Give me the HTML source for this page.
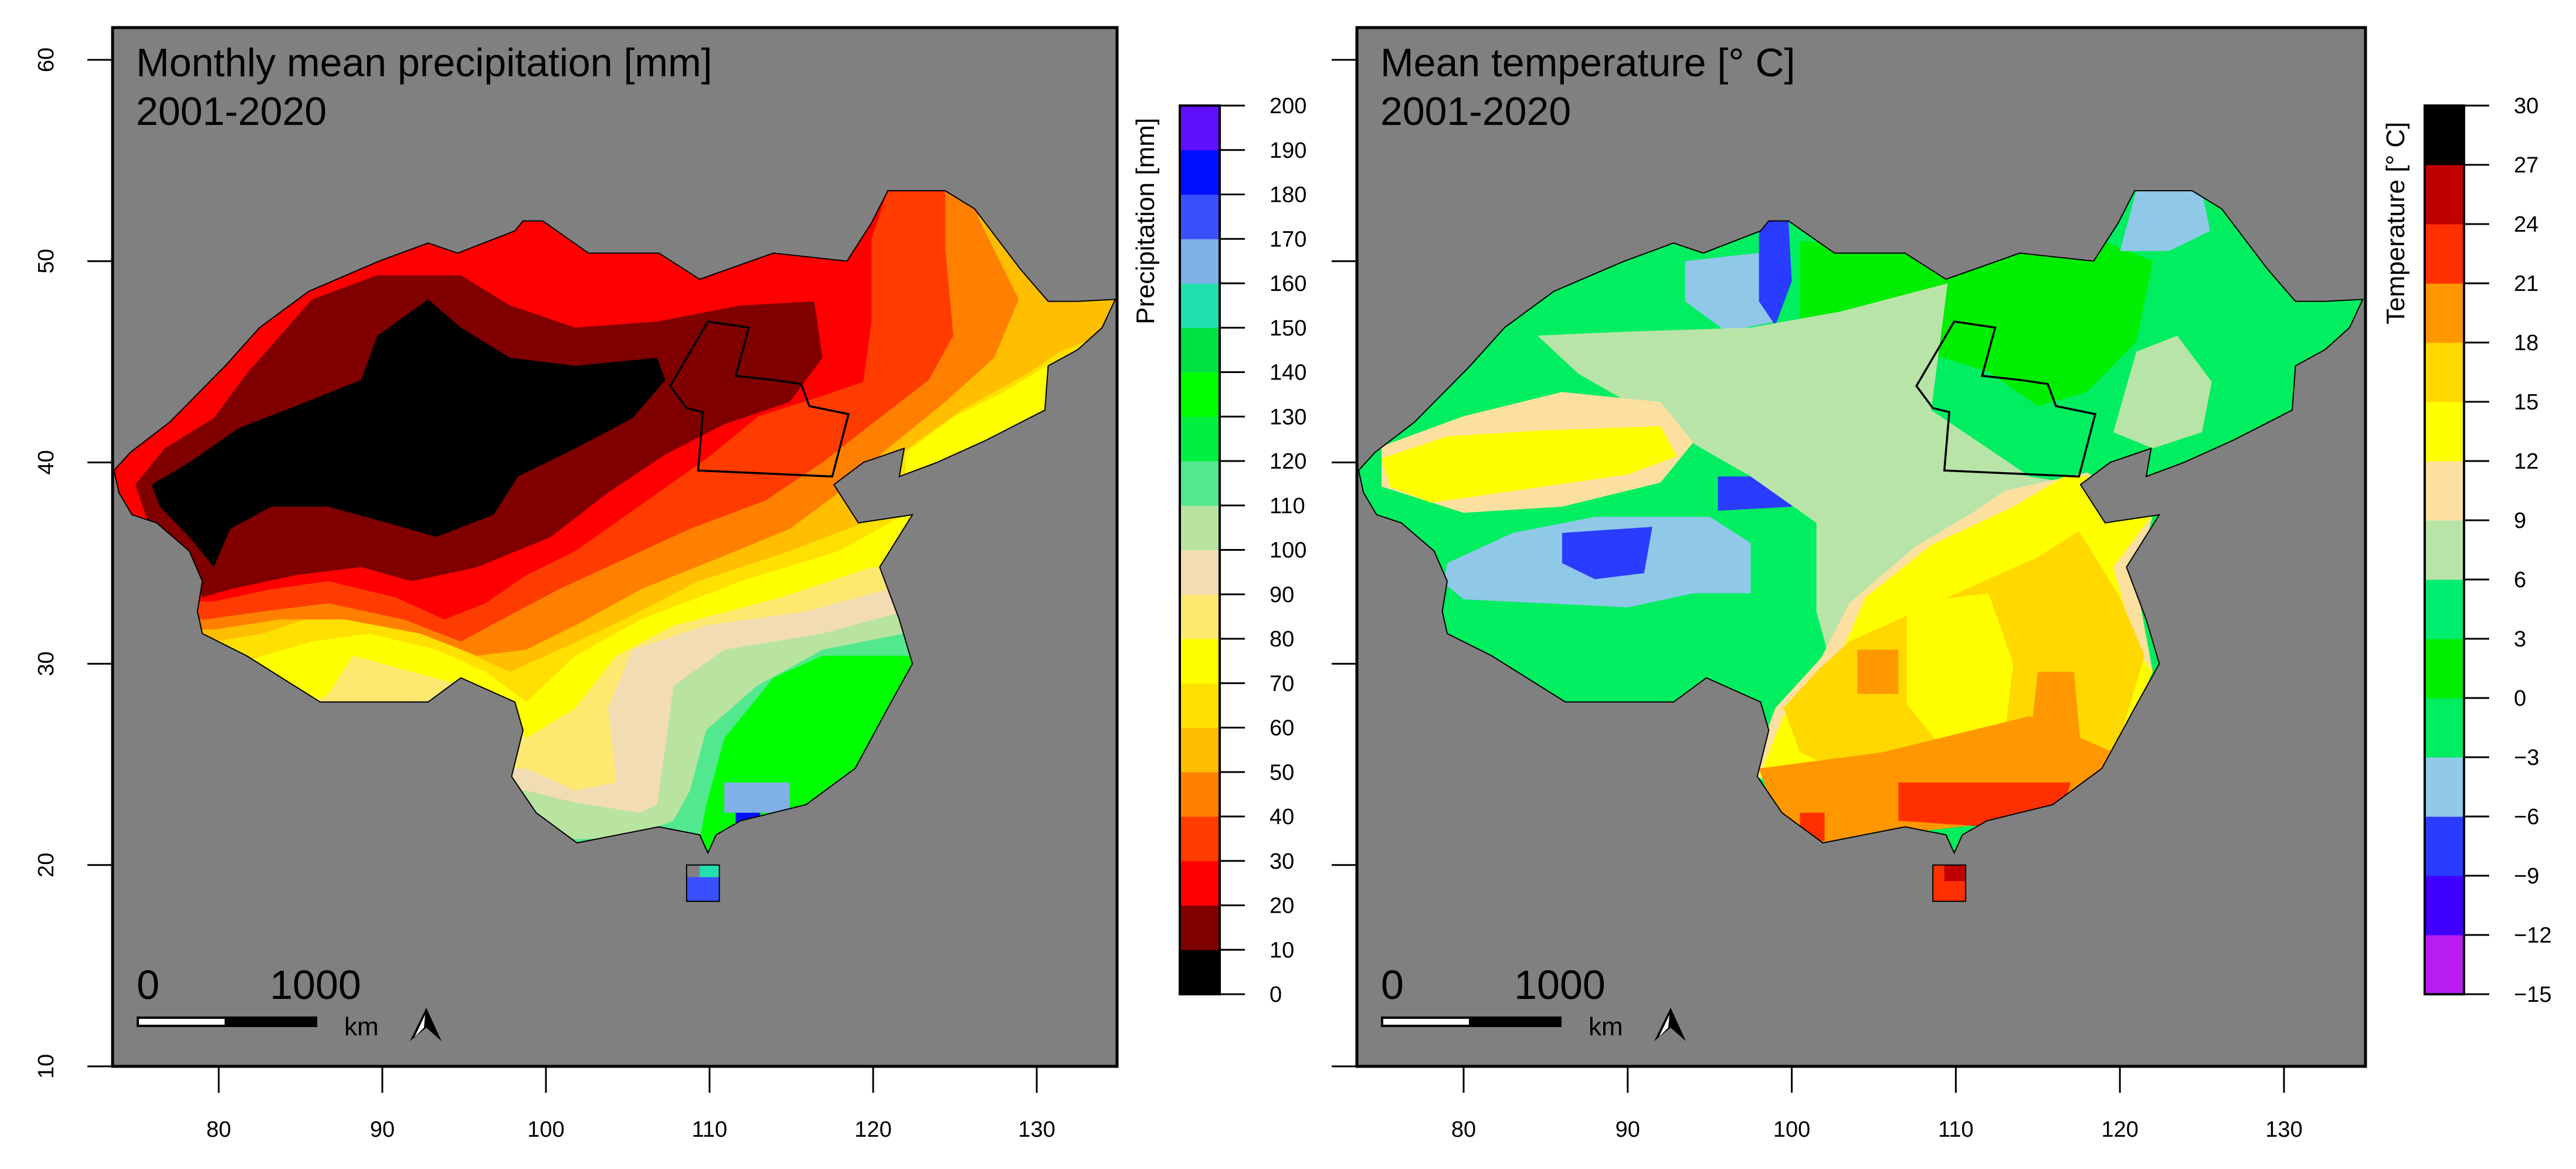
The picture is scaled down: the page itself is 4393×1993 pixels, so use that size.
<!DOCTYPE html>
<html><head><meta charset="utf-8"><style>
html,body{margin:0;padding:0;background:#fff}
svg{display:block}
text{font-family:"Liberation Sans",Arial,sans-serif}
</style></head><body>
<svg id="fig" xmlns="http://www.w3.org/2000/svg" width="4393" height="1993" viewBox="0 0 4393 1993"></svg>
<script>
// ---------- data ----------
const lonTicks = [80, 90, 100, 110, 120, 130];
const latTicks = [10, 20, 30, 40, 50, 60];
const precipBreaks = [0,10,20,30,40,50,60,70,80,90,100,110,120,130,140,150,160,170,180,190,200];
const precipColors = ["#000000","#800000","#ff0000","#ff3c00","#ff8000","#ffbe00","#ffe000","#ffff00","#ffe870","#f2dcb4","#b8e4a0","#52e890","#00f040","#00ff00","#00e040","#20e0b0","#80b0e8","#3a50ff","#0010ff","#6010ff"];
const tempBreaks = [-15,-12,-9,-6,-3,0,3,6,9,12,15,18,21,24,27,30];
const tempLabels = ["\u221215","\u221212","\u22129","\u22126","\u22123","0","3","6","9","12","15","18","21","24","27","30"];
const tempColors = ["#b81cf0","#4000ff","#2a3cff","#90c8e8","#00ee60","#00ee00","#00ee70","#b8e4a8","#fce0a0","#ffff00","#ffd800","#ff9800","#ff3000","#c00000","#000000"];
const china = [[73.6,39.6],[74.6,40.5],[77,42],[80.4,44.8],[82.5,46.7],[85.5,48.5],[87.5,49.2],[89.8,50],[92.8,50.9],[94.6,50.4],[98.1,51.5],[98.6,52],[99.8,52],[102.6,50.4],[106.9,50.4],[109.4,49.1],[113.9,50.4],[118.4,50],[119.9,51.9],[120.9,53.5],[124.4,53.5],[126.2,52.6],[129,49.6],[130.7,48],[132.5,48],[134.8,48.1],[134,46.7],[132.5,45.6],[130.7,44.8],[130.5,42.6],[126.9,41.1],[123.9,40],[121.6,39.3],[121.9,40.7],[119.4,40],[117.6,38.9],[119.1,37],[122.4,37.4],[120.4,34.8],[121.6,32.2],[122.4,30],[120.9,27.8],[118.9,24.8],[115.9,23],[111.9,22.2],[110.4,21.5],[109.9,20.6],[109.4,21.5],[106.9,21.9],[101.9,21.1],[99.4,22.6],[97.9,24.4],[98.6,26.7],[98.1,28.1],[94.8,29.3],[92.8,28.1],[86.2,28.1],[81.7,30.4],[79,31.5],[78.7,32.6],[79,34.1],[78.2,35.6],[76.2,37],[74.7,37.4],[73.9,38.5]];
const hainan = [[108.6,18.2],[110.6,18.2],[110.6,20],[108.6,20]];
const studyArea = [[109.9,47],[112.4,46.7],[111.6,44.3],[113.9,44.1],[115.6,43.9],[116.1,42.8],[118.5,42.4],[117.5,39.3],[109.3,39.6],[109.6,42.5],[108.6,42.7],[107.6,43.8]];
// precipitation class boundaries: class index drawn on NW side of each line
const pLineMint = [[140,30.4],[121.4,30.4],[116.9,30.4],[113.9,29.3],[110.9,26.3],[109.8,23],[109.3,20.8],[70,20.8]];
const pLineLightGreen = [[140,31.5],[121.9,31.5],[116.9,30.7],[112.9,28.9],[109.8,26.7],[108.8,23.7],[107.8,22.2],[104.8,21.3],[70,21.3]];
const pLineWheat = [[140,32.6],[121.9,32.6],[116.9,31.5],[110.9,30.7],[107.8,28.9],[107.3,25.9],[106.8,23],[105.8,22.6],[101.8,23.1],[98.8,23.7],[70,23.7]];
const pLineLightYellow = [[140,33.7],[120.9,33.7],[115.9,32.6],[109.8,31.9],[105.3,30.7],[103.8,27.8],[104.3,24.1],[101.8,23.7],[98.8,24.8],[70,24.8]];
const pLineYellow = [[140,34.8],[119.9,34.8],[114.4,33.3],[107.8,31.9],[104.3,30.4],[101.8,27.8],[98.8,26.3],[96.8,28.5],[91.8,29.6],[88.2,30.4],[86.7,28.5],[85.7,28],[70,28]];
const pLineGold = [[140,45],[131,45],[128,43.5],[125,42.3],[122,40.5],[121.9,37.4],[117.9,35.6],[111.9,34.1],[105.8,32.2],[101.8,30.4],[98.8,28.1],[96.3,29.6],[93.3,30.7],[89.2,31.5],[85.7,31.1],[82.7,30.4],[81.2,30],[70,30]];
const pLineAmber = [[140,46],[133,46],[131.4,45.5],[129.4,44.4],[125.4,42.6],[120.9,40],[119.4,37],[114.9,35.6],[109.3,34.1],[104.8,32.2],[100.8,30.7],[97.8,29.6],[94.8,30.7],[90.8,32.2],[86.7,32.6],[82.7,31.5],[79.7,31.1],[70,31.1]];
const pLineOrange = [[126.5,60],[126.4,52.2],[128.9,48.1],[127.4,45.2],[124.4,43],[120.9,40.7],[117.9,38.5],[114.9,36.7],[110.4,35.2],[105.8,33.7],[101.8,31.9],[98.8,30.7],[95.8,30.4],[92.3,31.5],[87.7,32.2],[83.7,32.2],[79.7,31.7],[70,31.7]];
const pLineRedOrange = [[124.4,60],[124.4,53],[124.4,50.7],[124.9,46.3],[123.4,44.1],[119.9,41.9],[116.9,40],[113.4,38.1],[108.8,36.7],[104.8,35.2],[100.8,33.7],[97.3,32.2],[94.8,31.1],[91.3,32.2],[86.7,33],[82.7,32.6],[79.2,32.2],[70,32.2]];
const pLineRed = [[121,60],[120.9,53.5],[119.9,51.1],[119.9,47],[119.4,44],[116.5,43.2],[113,42.3],[110,40.3],[106,38],[101.8,35.6],[98.8,34.4],[96.3,33],[93.8,32.2],[90.8,33.3],[86.7,34.1],[83.2,33.7],[79.7,33.1],[70,33.1]];
const pBlobDarkRed = [[74.9,38.9],[76.7,40.7],[79.7,42.2],[81.7,44.4],[85.7,48.1],[89.7,49.3],[94.8,49.3],[97.8,47.8],[101.8,46.7],[106.8,47],[111.9,47.8],[116.4,48],[116.9,45.2],[114.9,43],[110.9,41.9],[107.3,40.4],[103.8,38.5],[100.3,36.3],[95.8,34.8],[91.8,34.1],[88.7,34.8],[84.7,34.4],[80.7,33.7],[79,33.3],[78.2,35.6],[75.7,37]];
const pBlobBlack = [[75.9,38.9],[78.2,40],[81.2,41.7],[84.7,42.8],[88.7,44.1],[89.7,46.3],[92.8,48.1],[94.8,46.7],[97.8,45.2],[101.8,44.8],[106.8,45.2],[107.3,44.1],[105.3,42.2],[101.8,40.7],[98.3,39.3],[96.8,37.4],[93.3,36.3],[90.3,37],[86.7,37.8],[83.2,37.8],[80.7,36.7],[79.7,34.8],[78.2,36.3],[76.4,37.8]];
const pLightBlueSpot = [[110.9,22.6],[114.9,22.6],[114.9,24.1],[110.9,24.1]];
const pBlueSpot = [[111.6,21.7],[113.1,21.7],[113.1,22.6],[111.6,22.6]];
const pHainanBlue = [[108.6,18.2],[110.6,18.2],[110.6,19.4],[108.6,19.4]];
const pHainanMint = [[109.4,19.4],[110.6,19.4],[110.6,20],[109.4,20]];
// temperature patches [colorIndex, polygon]
const tGreenNE = [[100.5,51],[110,50.5],[119,51],[122,50],[121,46],[118,43.5],[115,42.8],[112,44.5],[106,46],[100.5,46.5]];
const tLightBlueN = [[93.5,50],[99,50.5],[99,47],[96,46.5],[93.5,48]];
const tLightBlueNE = [[120,50.5],[121,53.5],[125,53.5],[125.5,51.5],[123,50.5]];
const tLightBlueTibet = [[79,35],[83,36.5],[88,37.3],[95,37.3],[97.5,36],[97.5,33.5],[94,33.5],[90,32.8],[85,33],[80,33.2],[78.8,34]];
const tBlue1 = [[86,36.5],[91.5,36.8],[91,34.5],[88,34.2],[86,35]];
const tBlue2 = [[95.5,39.3],[100,39.3],[100,37.8],[95.5,37.6]];
const tBlue3 = [[98,52],[99.8,52],[100,49],[99,46.8],[98,48]];
const tLightGreen = [[97.5,46.7],[103,47.5],[109.5,48.9],[108.5,42.6],[114.5,39.3],[117.6,38.9],[113.5,37],[107.5,34.8],[104.5,32.2],[102.5,29.6],[101.5,32.6],[101.5,37],[97.5,39.3],[94.5,40.7],[90,43],[87,44.4],[84.5,46.3],[90,46.5]];
const tLightGreenNE = [[119.6,41.5],[121,45.5],[123.5,46.3],[125.6,44],[125,41.5],[122,40.7]];
const tWheatW = [[75,40.8],[80,42.3],[86,43.5],[92,43],[94,41],[92,39],[86,37.8],[80,37.5],[75,38.8]];
const tYellowW = [[75,40.2],[79,41.3],[85,41.6],[92,41.8],[93,40.3],[90,39.4],[84,38.7],[78,38],[75.5,38.8]];
const tWheatS = [[113,38.6],[118,39.5],[122,37.4],[121,34],[122,29.6],[119.6,25.2],[114.5,22.8],[104.5,22.3],[97.5,24.5],[99,27.8],[101.8,30.3],[103.5,33],[107.5,35.8],[111,37.5]];
const tYellowS = [[116.6,39.3],[119.6,39.3],[122,37.4],[119.6,34.8],[121,30.7],[122,29.6],[119.6,25.2],[114.5,23],[104.5,22.6],[98,24.4],[99.5,27.4],[102.5,29.6],[104.5,33.3],[108.5,35.9],[113.5,37.8]];
const tGold = [[103.5,31.1],[109.5,33.3],[115,35.3],[117.5,36.6],[120,33.3],[121.5,30.4],[119.6,25.2],[114.5,23.7],[105.5,23.7],[100.5,25.6],[99.5,27.8],[101.5,29.6]];
const tYellowIn = [[107,33],[112,33.5],[113.5,30],[113,26.5],[109,26],[107,28]];
const tOrange = [[98,24.8],[105.5,25.6],[114.5,27.4],[119.6,25.6],[117.6,23.4],[113.5,22.2],[101.5,21.1],[99,22.6]];
const tOrange2 = [[104,28.5],[106.5,28.5],[106.5,30.7],[104,30.7]];
const tOrange3 = [[114.5,26],[117.6,26],[117.2,29.6],[115,29.6]];
const tRed = [[106.5,24.1],[117,24.1],[116.6,23],[112,21.9],[106.5,22.2]];
const tRed2 = [[100.5,22.6],[102,22.6],[102,21.2],[100.5,21.2]];
const tHainanRed = [[108.6,18.2],[110.6,18.2],[110.6,20],[108.6,20]];
const tHainanDark = [[109.3,19.2],[110.6,19.2],[110.6,20],[109.3,20]];

// ---------- drawing ----------
const NS = "http://www.w3.org/2000/svg";
const svg = document.getElementById("fig");
function el(tag, attrs, parent){ const e=document.createElementNS(NS,tag); for(const k in attrs) e.setAttribute(k,attrs[k]); (parent||svg).appendChild(e); return e; }

const panels = [
  {id:"precip", box:[192,47,1905,1818], x0:373, dx:27.9, title:"Monthly mean precipitation [mm]"},
  {id:"temp", box:[2314,47,4034,1818], x0:2496, dx:27.98, title:"Mean temperature [\u00b0 C]"}
];
const Y = lat => 1818 - (lat-10)*34.32;

function pathOf(poly, X){ return "M" + poly.map(p => X(p[0]).toFixed(1)+","+Y(p[1]).toFixed(1)).join("L") + "Z"; }
function bandPoly(line){ return line.concat([[60,65],[140,65]]); }

panels.forEach((P, pi) => {
  const X = lon => P.x0 + (lon-80)*P.dx;
  const [bx0,by0,bx1,by1] = P.box;
  const g = el("g",{});
  
  
  const bg = el("rect",{x:bx0,y:by0,width:bx1-bx0,height:by1-by0,fill:"#808080"},g);
  
  
  const cp = el("clipPath",{id:"clip"+pi},g);
  el("path",{d:pathOf(china,X)+pathOf(hainan,X)},cp);
  const layer = el("g",{"clip-path":"url(#clip"+pi+")"},g);
  
  
  function fillPoly(poly, color, name){
    const p = el("path",{d:pathOf(poly,X),fill:color},layer);
    
    
  }
  if (pi===0){
    fillPoly(china, precipColors[13], "precip-class-130-140");
    const bands = [[pLineMint,11],[pLineLightGreen,10],[pLineWheat,9],[pLineLightYellow,8],[pLineYellow,7],[pLineGold,6],[pLineAmber,5],[pLineOrange,4],[pLineRedOrange,3],[pLineRed,2]];
    bands.forEach(b => fillPoly(bandPoly(b[0]), precipColors[b[1]], "precip-class-"+precipBreaks[b[1]]+"-"+precipBreaks[b[1]+1]));
    fillPoly(pBlobDarkRed, precipColors[1], "precip-class-10-20");
    fillPoly(pBlobBlack, precipColors[0], "precip-class-0-10");
    fillPoly(pLightBlueSpot, precipColors[16], "precip-class-160-170");
    fillPoly(pBlueSpot, precipColors[18], "precip-class-180-190");
    fillPoly(pHainanBlue, precipColors[17], "precip-hainan");
    fillPoly(pHainanMint, precipColors[15], "precip-hainan-north");
  } else {
    fillPoly(china, tempColors[4], "temp-class-minus3-0");
    const patches = [[tGreenNE,5],[tLightBlueN,3],[tLightBlueNE,3],[tLightBlueTibet,3],[tBlue1,2],[tBlue2,2],[tBlue3,2],[tLightGreen,7],[tLightGreenNE,7],[tWheatW,8],[tYellowW,9],[tWheatS,8],[tYellowS,9],[tGold,10],[tYellowIn,9],[tOrange,11],[tOrange2,11],[tOrange3,11],[tRed,12],[tRed2,12],[tHainanRed,12],[tHainanDark,13]];
    patches.forEach(t => fillPoly(t[0], tempColors[t[1]], "temp-class-"+tempBreaks[t[1]]+"-"+tempBreaks[t[1]+1]));
  }
  const ol = el("path",{d:pathOf(china,X)+pathOf(hainan,X),fill:"none",stroke:"#000","stroke-width":2},g);
  
  
  const sa = el("path",{d:pathOf(studyArea,X),fill:"none",stroke:"#000","stroke-width":3.5},g);
  
  
  const frame = el("rect",{x:bx0,y:by0,width:bx1-bx0,height:by1-by0,fill:"none",stroke:"#000","stroke-width":5},g);
  
  
  // axes
  lonTicks.forEach(v => {
    const t = el("line",{x1:X(v),x2:X(v),y1:by1,y2:by1+45,stroke:"#000","stroke-width":3},g);
    
    
    const l = el("text",{x:X(v),y:1938,"font-size":38,"text-anchor":"middle"},g);
    l.textContent = v;
    
    
  });
  latTicks.forEach(v => {
    const t = el("line",{x1:bx0-43,x2:bx0,y1:Y(v),y2:Y(v),stroke:"#000","stroke-width":3},g);
    
    
    if (pi===0){
      const l = el("text",{x:91,y:Y(v),"font-size":38,"text-anchor":"middle",transform:"rotate(-90 91 "+Y(v)+")"},g);
      l.textContent = v;
      
      
    }
  });
  // title
  const t1 = el("text",{x:bx0+40,y:130,"font-size":68},g);
  t1.textContent = P.title;
  
  
  const t2 = el("text",{x:bx0+40,y:213,"font-size":68},g);
  t2.textContent = "2001-2020";
  
  
  // scale bar
  const sx = bx0+41;
  const s0 = el("text",{x:sx,y:1703,"font-size":70},g); s0.textContent="0";
   
  const s1 = el("text",{x:sx+305,y:1703,"font-size":70,"text-anchor":"middle"},g); s1.textContent="1000";
   
  const sb = el("rect",{x:sx,y:1733,width:308,height:18,fill:"#000"},g);
   
  el("rect",{x:sx+4,y:1737,width:146,height:10,fill:"#fff"},g);
  const km = el("text",{x:sx+354,y:1765,"font-size":44},g); km.textContent="km";
   
  const na = el("path",{d:`M${sx+494},1718 L${sx+520},1775 L${sx+494},1752 L${sx+466},1775 Z`,fill:"#000"},g);
   
  el("path",{d:`M${sx+492},1730 L${sx+474},1768 L${sx+490},1752 Z`,fill:"#fff"},g);
});

// colorbars
function colorbar(x0, x1, breaks, colors, labels, title, titleX, name){
  const g = el("g",{});
  
  
  const top=180, bot=1695, n=colors.length, h=(bot-top)/n;
  colors.forEach((c,i) => {
    const r = el("rect",{x:x0,y:bot-(i+1)*h,width:x1-x0,height:h+0.5,fill:c},g);
    
    
  });
  el("rect",{x:x0,y:top,width:x1-x0,height:bot-top,fill:"none",stroke:"#000","stroke-width":4},g);
  breaks.forEach((b,i) => {
    const y = bot - i*h;
    const t = el("line",{x1:x1,x2:x1+43,y1:y,y2:y,stroke:"#000","stroke-width":3},g);
    
    
    const l = el("text",{x:x1+85,y:y+13,"font-size":38},g);
    l.textContent = labels[i];
    
    
  });
  const tt = el("text",{x:titleX,y:553,"font-size":44,transform:`rotate(-90 ${titleX} 553)`},g);
  tt.textContent = title;
  
  
}
colorbar(2012, 2080, precipBreaks, precipColors, precipBreaks.map(String), "Precipitation [mm]", 1968, "precip-colorbar");
colorbar(4135, 4202, tempBreaks, tempColors, tempLabels, "Temperature [\u00b0 C]", 4100, "temp-colorbar");
</script>
</body></html>
